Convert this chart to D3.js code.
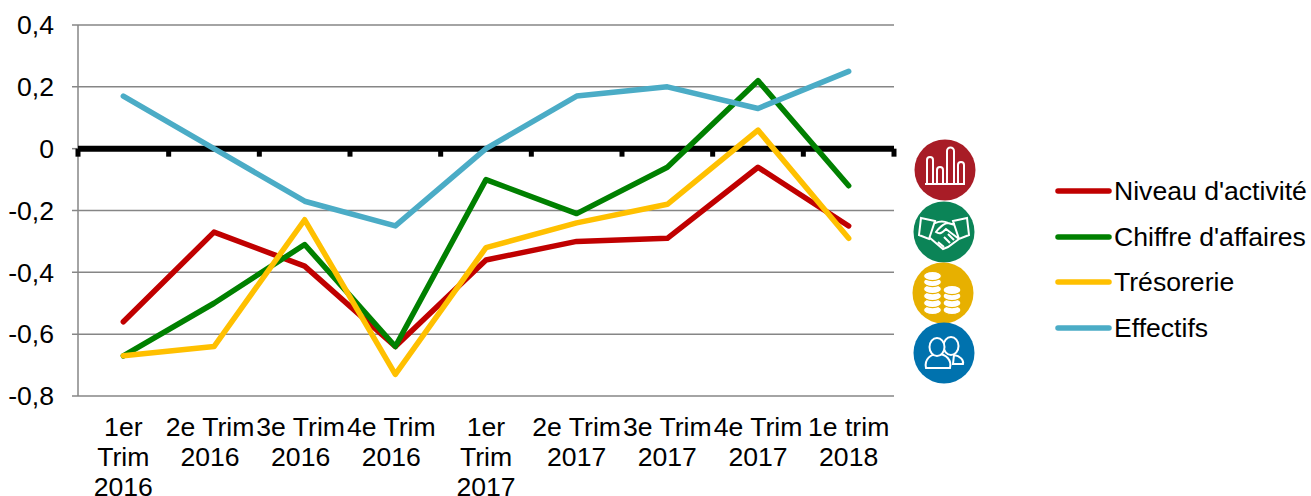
<!DOCTYPE html>
<html>
<head>
<meta charset="utf-8">
<script src="https://cdn.jsdelivr.net/npm/d3@7"></script>
<style>
html, body { margin: 0; padding: 0; background: #fff; overflow: hidden; }
svg { display: block; }
text { font-family: "Liberation Sans", Arial, sans-serif; font-size: 26.6px; fill: #000; }
</style>
</head>
<body>
<svg></svg>
<script>
const categories = ["1er Trim 2016", "2e Trim 2016", "3e Trim 2016", "4e Trim 2016", "1er Trim 2017", "2e Trim 2017", "3e Trim 2017", "4e Trim 2017", "1e trim 2018"];
const categoryLines = [["1er", "Trim", "2016"], ["2e Trim", "2016"], ["3e Trim", "2016"], ["4e Trim", "2016"], ["1er", "Trim", "2017"], ["2e Trim", "2017"], ["3e Trim", "2017"], ["4e Trim", "2017"], ["1e trim", "2018"]];
const yTicks = [0.4, 0.2, 0, -0.2, -0.4, -0.6, -0.8];

const niveau = [-0.56, -0.27, -0.38, -0.64, -0.36, -0.30, -0.29, -0.06, -0.25];
const chiffre = [-0.67, -0.50, -0.31, -0.64, -0.10, -0.21, -0.06, 0.22, -0.12];
const tresorerie = [-0.67, -0.64, -0.23, -0.73, -0.32, -0.24, -0.18, 0.06, -0.29];
const effectifs = [0.17, 0, -0.17, -0.25, 0, 0.17, 0.20, 0.13, 0.25];

const seriesNames = ["Niveau d'activité", "Chiffre d'affaires", "Trésorerie", "Effectifs"];
const seriesValues = [niveau, chiffre, tresorerie, effectifs];
const seriesColors = ["#c00000", "#008000", "#ffc000", "#4bacc6"];

const width = 1311, height = 496;
const margin = { top: 25, right: 417, bottom: 100, left: 78 };

const svg = d3.select("svg").attr("width", width).attr("height", height);

const x = d3.scaleBand().domain(categories).range([margin.left, width - margin.right]);
const y = d3.scaleLinear().domain([-0.8, 0.4]).range([height - margin.bottom, margin.top]);

// gridlines + left axis
svg.append("g").selectAll("line")
  .data(yTicks.filter(d => d !== 0))
  .enter().append("line")
  .attr("x1", margin.left - 6)
  .attr("x2", width - margin.right)
  .attr("y1", d => y(d))
  .attr("y2", d => y(d))
  .attr("stroke", "#868686")
  .attr("stroke-width", 1.5);

svg.append("line")
  .attr("x1", margin.left).attr("x2", margin.left)
  .attr("y1", y(0.4)).attr("y2", y(-0.8))
  .attr("stroke", "#868686").attr("stroke-width", 1.5);

svg.append("line")
  .attr("x1", margin.left - 6).attr("x2", margin.left)
  .attr("y1", y(0)).attr("y2", y(0))
  .attr("stroke", "#868686").attr("stroke-width", 1.5);

svg.append("g").selectAll("text")
  .data(yTicks)
  .enter().append("text")
  .attr("x", margin.left - 24)
  .attr("y", d => y(d))
  .attr("dy", "0.35em")
  .attr("text-anchor", "end")
  .text(d => String(d).replace(".", ","));

// zero axis
svg.append("line")
  .attr("x1", margin.left).attr("x2", width - margin.right)
  .attr("y1", y(0)).attr("y2", y(0))
  .attr("stroke", "#000").attr("stroke-width", 6);

svg.append("g").selectAll("rect")
  .data(categories.concat(["end"]))
  .enter().append("rect")
  .attr("x", (d, i) => margin.left + i * x.step() - 2.5)
  .attr("y", y(0))
  .attr("width", 5)
  .attr("height", 8)
  .attr("fill", "#000");

// category labels, the 2e-4e 2016 ones sit a bit left of their band in the original
const catLabels = svg.append("g").selectAll("text")
  .data(categories)
  .enter().append("text")
  .attr("text-anchor", "middle")
  .attr("x", (d, i) => x(d) + x.bandwidth() / 2 - (i >= 1 && i <= 3 ? 4 : 0))
  .attr("y", 436);

catLabels.selectAll("tspan")
  .data((d, i) => categoryLines[i])
  .enter().append("tspan")
  .attr("x", function() { return d3.select(this.parentNode).attr("x"); })
  .attr("dy", (d, i) => i === 0 ? 0 : 30)
  .text(d => d);

// lines
const line = d3.line()
  .x((d, i) => x(categories[i]) + x.bandwidth() / 2)
  .y(d => y(d));

svg.append("g").selectAll("path")
  .data(seriesValues)
  .enter().append("path")
  .attr("d", line)
  .attr("fill", "none")
  .attr("stroke", (d, i) => seriesColors[i])
  .attr("stroke-width", 5.5)
  .attr("stroke-linejoin", "round")
  .attr("stroke-linecap", "round");

// legend
const legendY = [191, 237, 282, 328];
const legend = svg.append("g").selectAll("g")
  .data(seriesNames)
  .enter().append("g")
  .attr("transform", (d, i) => `translate(1056,${legendY[i]})`);

legend.append("line")
  .attr("x1", 2).attr("x2", 53)
  .attr("stroke", (d, i) => seriesColors[i])
  .attr("stroke-width", 5.5)
  .attr("stroke-linecap", "round");

legend.append("text")
  .attr("x", 58)
  .attr("dy", "0.33em")
  .text(d => d);

// round icons next to the legend
const icons = [
  { cx: 945, cy: 170, fill: "#a81c26" },
  { cx: 944, cy: 232, fill: "#0b8457" },
  { cx: 943, cy: 293, fill: "#e7b000" },
  { cx: 944, cy: 353, fill: "#0072ae" }
];

const iconG = svg.append("g").selectAll("g")
  .data(icons)
  .enter().append("g")
  .attr("transform", d => `translate(${d.cx},${d.cy})`);

iconG.append("circle").attr("r", 30.5).attr("fill", d => d.fill);

function styled(sel, fill) {
  return sel.attr("fill", fill || "none").attr("stroke", "#fff").attr("stroke-width", 2);
}

// bars
styled(iconG.filter((d, i) => i === 0).append("path")
  .attr("d", "M-20 14H20 M-18 14V-10a3 3 0 0 1 6 0V14 M-8 14V0a3 3 0 0 1 6 0V14 M2 14V-19a3.5 3.5 0 0 1 7 0V14 M13 14V-5a3 3 0 0 1 6 0V14"));

// handshake
styled(iconG.filter((d, i) => i === 1).append("path")
  .attr("d", "M-23 -14L-9 -11L-15 7L-25 3Z M23 -14L9 -11L15 7L25 3Z M-9 -9C-4 -11 0 -11 4 -9L11 -7 M4 -9C0 -9 -6 -3 -8 0C-4 3 -1 0 2 -3L15 7 M-14 6L-1 17L4 15L15 7 M-6 10L0 15 M0 5L6 11 M4 2L10 8"));

// coins
const coins = iconG.filter((d, i) => i === 2);
[17, 10, 3, -4, -11, -17].forEach(cy => {
  coins.append("ellipse").attr("cx", -10.5).attr("cy", cy).attr("rx", 9).attr("ry", 4.6)
    .attr("fill", "#fff").attr("stroke", "#e7b000").attr("stroke-width", 1.2);
});
[17, 10, 3, -3].forEach(cy => {
  coins.append("ellipse").attr("cx", 9).attr("cy", cy).attr("rx", 9).attr("ry", 4.6)
    .attr("fill", "#fff").attr("stroke", "#e7b000").attr("stroke-width", 1.2);
});

// people
const people = iconG.filter((d, i) => i === 3);
styled(people.append("ellipse").attr("cx", 7).attr("cy", -7).attr("rx", 7.5).attr("ry", 9), "#0072ae");
styled(people.append("path").attr("d", "M10 2C16 3 20 7 19 11H9Z"), "#0072ae");
styled(people.append("path").attr("d", "M-18 15C-20 6 -13 1 -6 1C2 1 8 7 6 15Z"), "#0072ae");
styled(people.append("ellipse").attr("cx", -7).attr("cy", -6).attr("rx", 7.5).attr("ry", 9), "#0072ae");
</script>
</body>
</html>
